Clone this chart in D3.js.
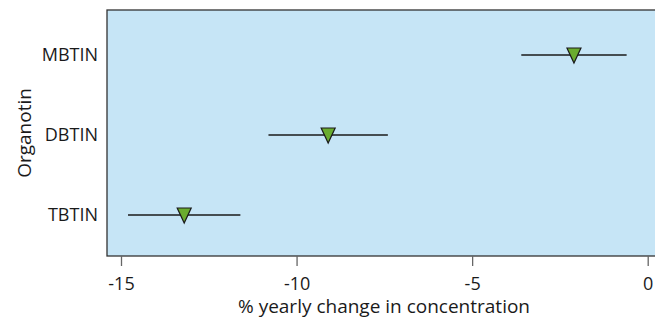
<!DOCTYPE html>
<html><head><meta charset="utf-8">
<script src="https://cdn.jsdelivr.net/npm/d3@7"></script>
<style>body{margin:0;background:#fff}svg{display:block}text{font-family:"Open Sans","Noto Sans",sans-serif;fill:#1a1a1a}</style>
</head><body>
<script>
const categories = ["MBTIN", "DBTIN", "TBTIN"];
const estimates = [-2.1, -9.1, -13.2];
const lowerCI = [-3.6, -10.8, -14.8];
const upperCI = [-0.6, -7.4, -11.6];
const xTicks = [-15, -10, -5, 0];

const W = 655, H = 320;
const panel = {left: 107, top: 10, right: 656, bottom: 256};
const svg = d3.select("body").append("svg").attr("width", W).attr("height", H);

const x = d3.scaleLinear().domain([-15, 0]).range([121, 647.7]);
const y = d3.scalePoint().domain(categories).range([15, 255]).padding(0.5);

svg.append("rect").attr("x", panel.left).attr("y", panel.top)
  .attr("width", panel.right - panel.left).attr("height", panel.bottom - panel.top)
  .attr("fill", "#c6e5f6").attr("stroke", "#333").attr("stroke-width", 1.3);

// x axis
const xa = svg.append("g").attr("transform", `translate(0,${panel.bottom})`)
  .call(d3.axisBottom(x).tickValues(xTicks).tickSize(10).tickPadding(11).tickFormat(d3.format("d")));
xa.select(".domain").remove();
xa.selectAll(".tick line").attr("stroke", "#666").attr("stroke-width", 1.3);
xa.selectAll(".tick text").attr("font-size", 18).attr("font-family", null).attr("fill", "#1a1a1a")
  .text(d => d < 0 ? "-" + Math.abs(d) : d);
xa.attr("font-size", null).attr("font-family", null);

// y axis labels
const ya = svg.append("g").attr("transform", `translate(${panel.left},0)`)
  .call(d3.axisLeft(y).tickSize(0).tickPadding(9));
ya.select(".domain").remove();
ya.attr("font-size", null).attr("font-family", null);
ya.selectAll(".tick text").attr("font-size", 18).attr("fill", "#1a1a1a");

// titles
svg.append("text").attr("x", 384).attr("y", 313).attr("text-anchor", "middle")
  .attr("font-size", 19).text("% yearly change in concentration");
svg.append("text").attr("transform", "translate(31,133) rotate(-90)").attr("text-anchor", "middle")
  .attr("font-size", 19).text("Organotin");

// error bars
const data = categories.map((c, i) => ({c, est: estimates[i], lo: lowerCI[i], hi: upperCI[i]}));
svg.append("g").selectAll("line").data(data).join("line")
  .attr("x1", d => x(d.lo)).attr("x2", d => x(d.hi))
  .attr("y1", d => y(d.c)).attr("y2", d => y(d.c))
  .attr("stroke", "#1a1a1a").attr("stroke-width", 1.3);

// triangles
svg.append("g").selectAll("path").data(data).join("path")
  .attr("d", d => { const cx = x(d.est), cy = y(d.c);
    return `M${cx-7},${cy-7}L${cx+7},${cy-7}L${cx},${cy+8}Z`; })
  .attr("fill", "#6aac2e").attr("stroke", "#1a1a1a").attr("stroke-width", 1.2).attr("stroke-linejoin", "miter");
</script>
</body></html>
